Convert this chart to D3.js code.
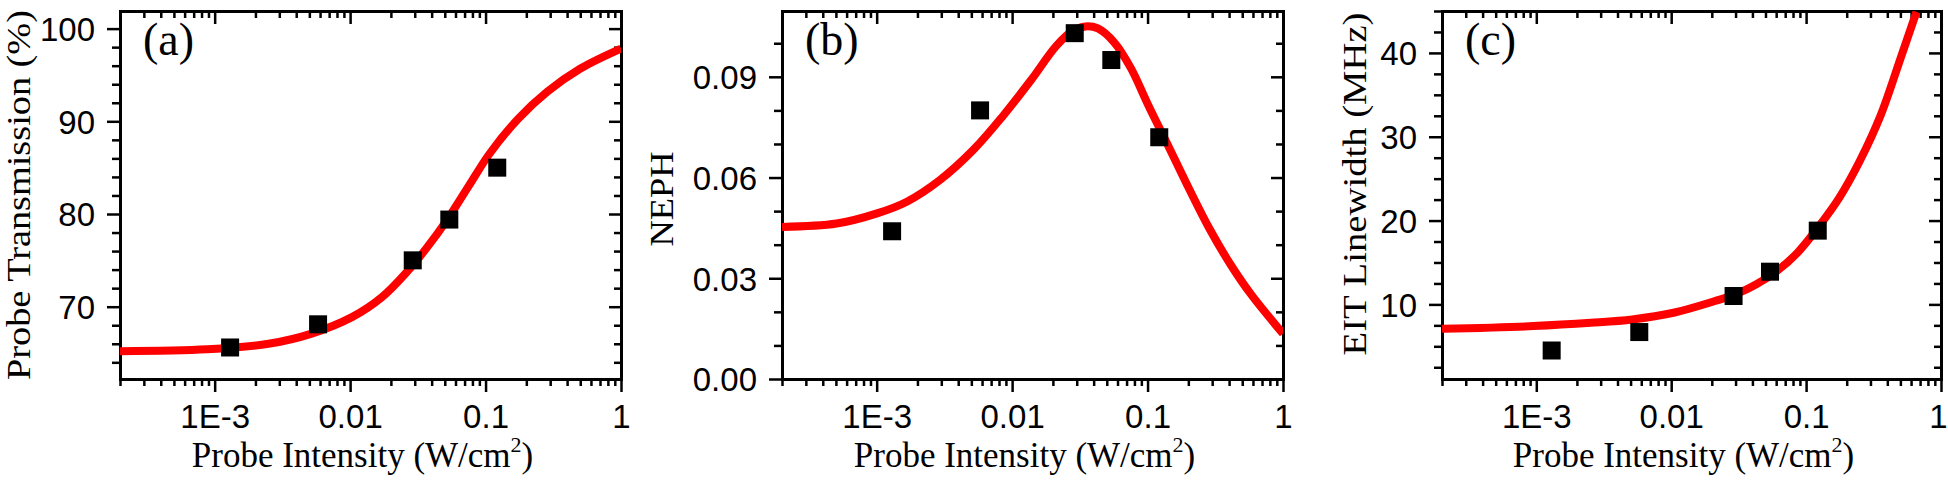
<!DOCTYPE html>
<html lang="en">
<head>
    <meta charset="UTF-8">
    <title>Probe intensity dependence</title>
    <script src="https://d3js.org/d3.v7.min.js"></script>
    <style>
        body { margin: 0; background: #fff; }
        .tick text { font-family: "Liberation Sans", Arial, sans-serif; font-size: 33px; fill: #000; }
        .title { font-family: "Liberation Serif", "Times New Roman", serif; fill: #000; }
    </style>
</head>
<body>
    <div id="chart"></div>

    <script>
        // Measured points (same intensities in all three panels)
        const intensity = [0.0013, 0.0058, 0.029, 0.054, 0.122];
        const transmission = [65.6, 68.1, 75.0, 79.4, 85.0];
        const neph = [0.044, 0.080, 0.103, 0.095, 0.072];
        const linewidth = [4.5, 6.7, 11.0, 13.9, 18.8];

        // Fit curves
        const fitA_x = [2e-4, 8.8e-4, 2.5e-3, 5.2e-3, 0.0104, 0.0171, 0.0261, 0.037, 0.0527, 0.075, 0.107, 0.175, 0.286, 0.502, 1.0];
        const fitA_y = [65.2, 65.4, 66.0, 67.1, 68.9, 71.0, 73.7, 76.4, 79.5, 83.0, 86.5, 90.3, 93.2, 95.7, 97.85];

        const fitB_x = [2e-4, 5.06e-4, 1.02e-3, 1.67e-3, 2.94e-3, 5.19e-3, 8.5e-3, 0.0139, 0.0212, 0.0281, 0.0348, 0.043, 0.0569, 0.0755, 0.1, 0.142, 0.203, 0.288, 0.41, 0.583, 1.0];
        const fitB_y = [0.0453, 0.0463, 0.0494, 0.0528, 0.0593, 0.0683, 0.0782, 0.0892, 0.0992, 0.1037, 0.1050, 0.1044, 0.1002, 0.0925, 0.0820, 0.0695, 0.0566, 0.0446, 0.0341, 0.0251, 0.0135];

        const fitC_x = [2e-4, 9.5e-4, 2.54e-3, 5.15e-3, 0.0104, 0.0211, 0.030, 0.0428, 0.061, 0.0867, 0.123, 0.176, 0.25, 0.356, 0.505, 0.658];
        const fitC_y = [7.09, 7.41, 7.80, 8.2, 9.0, 10.4, 11.2, 12.4, 14.0, 16.2, 19.2, 22.7, 27.1, 32.5, 39.5, 44.9];

        // Axis ticks
        const xDomain = [2e-4, 1];
        const xMajor = [1e-3, 1e-2, 1e-1, 1];
        const xLabels = ["1E-3", "0.01", "0.1", "1"];

        const yTicksA = [70, 80, 90, 100];
        const yLabelsA = ["70", "80", "90", "100"];
        const yTicksB = [0, 0.03, 0.06, 0.09];
        const yLabelsB = ["0.00", "0.03", "0.06", "0.09"];
        const yTicksC = [10, 20, 30, 40];
        const yLabelsC = ["10", "20", "30", "40"];

        const panels = [
            { left: 120, width: 501, tag: "(a)", yTitle: "Probe Transmission (%)", titleX: 30, titleY: 195, titleLen: 370,
              yDomain: [62.2, 101.9], yMinorStep: 2, yTicks: yTicksA, yLabels: yLabelsA,
              pts: transmission, fx: fitA_x, fy: fitA_y },
            { left: 782, width: 501, tag: "(b)", yTitle: "NEPH", titleX: 673, titleY: 199, titleLen: 95,
              yDomain: [0, 0.1096], yMinorStep: 0.01, yTicks: yTicksB, yLabels: yLabelsB,
              pts: neph, fx: fitB_x, fy: fitB_y },
            { left: 1442, width: 499, tag: "(c)", yTitle: "EIT Linewidth (MHz)", titleX: 1366, titleY: 184, titleLen: 343,
              yDomain: [1.1, 45], yMinorStep: 2.5, yTicks: yTicksC, yLabels: yLabelsC,
              pts: linewidth, fx: fitC_x, fy: fitC_y }
        ];

        const W = 1948, H = 480, frameTop = 11, frameBottom = 379;

        const svg = d3.select("#chart").append("svg")
            .attr("width", W).attr("height", H);

        function styleAxis(g) {
            g.select(".domain").attr("stroke", "#000").attr("stroke-width", 3)
                .attr("stroke-linecap", "square");
            g.selectAll(".tick line").attr("stroke", "#000").attr("stroke-width", 2.5);
        }

        panels.forEach((p, idx) => {
            const h = frameBottom - frameTop;
            const g = svg.append("g").attr("transform", `translate(${p.left},${frameTop})`);

            const x = d3.scaleLog().domain(xDomain).range([0, p.width]);
            const y = d3.scaleLinear().domain(p.yDomain).range([h, 0]);

            const xMinor = x.ticks().filter(d => !xMajor.some(m => Math.abs(m - d) / m < 1e-6));
            const yMinor = d3.range(Math.ceil(p.yDomain[0] / p.yMinorStep), Math.floor(p.yDomain[1] / p.yMinorStep) + 1)
                .map(k => +(k * p.yMinorStep).toFixed(4))
                .filter(d => !p.yTicks.some(t => Math.abs(t - d) < 1e-6));

            // bottom axis: outward ticks
            const gb = g.append("g").attr("transform", `translate(0,${h})`);
            gb.append("g").call(d3.axisBottom(x).tickValues(xMinor).tickSize(7).tickSizeOuter(0).tickFormat(""))
                .call(styleAxis);
            gb.append("g").call(d3.axisBottom(x).tickValues(xMajor).tickSize(13).tickSizeOuter(0)
                    .tickFormat((d, i) => xLabels[i]))
                .call(styleAxis)
                .call(a => a.selectAll("text").attr("y", 49).attr("dy", null))
                .call(a => a.selectAll("text").each(function (d) {
                    // keep the last label inside the page
                    const half = this.getComputedTextLength() / 2;
                    const over = p.left + x(d) + half - (W - 1);
                    if (over > 0) d3.select(this).attr("dx", -over);
                }));

            // top axis: inward ticks
            g.append("g").call(d3.axisTop(x).tickValues(xMinor).tickSize(-7).tickSizeOuter(0).tickFormat(""))
                .call(styleAxis);
            g.append("g").call(d3.axisTop(x).tickValues(xMajor).tickSize(-13).tickSizeOuter(0).tickFormat(""))
                .call(styleAxis);

            // left axis: outward ticks
            g.append("g").call(d3.axisLeft(y).tickValues(yMinor).tickSize(8).tickSizeOuter(0).tickFormat(""))
                .call(styleAxis);
            g.append("g").call(d3.axisLeft(y).tickValues(p.yTicks).tickSize(13).tickSizeOuter(0)
                    .tickFormat((d, i) => p.yLabels[i]))
                .call(styleAxis)
                .call(a => a.selectAll("text").attr("x", -25).attr("dy", "0.36em"));

            // right axis: inward ticks
            const gr = g.append("g").attr("transform", `translate(${p.width},0)`);
            gr.append("g").call(d3.axisRight(y).tickValues(yMinor).tickSize(-7).tickSizeOuter(0).tickFormat(""))
                .call(styleAxis);
            gr.append("g").call(d3.axisRight(y).tickValues(p.yTicks).tickSize(-12).tickSizeOuter(0).tickFormat(""))
                .call(styleAxis);

            // fit curve, clipped to the frame
            g.append("clipPath").attr("id", "clip" + idx)
                .append("rect").attr("width", p.width).attr("height", h);

            const line = d3.line()
                .x(d => x(d[0]))
                .y(d => y(d[1]))
                .curve(d3.curveCatmullRom.alpha(0.5));

            g.append("path")
                .datum(p.fx.map((v, i) => [v, p.fy[i]]))
                .attr("clip-path", `url(#clip${idx})`)
                .attr("d", line)
                .attr("fill", "none")
                .attr("stroke", "#ff0000")
                .attr("stroke-width", 8);

            // measured points
            const s = 18;
            g.selectAll("rect.pt")
                .data(intensity.map((v, i) => [v, p.pts[i]]))
                .join("rect")
                .attr("class", "pt")
                .attr("x", d => x(d[0]) - s / 2)
                .attr("y", d => y(d[1]) - s / 2)
                .attr("width", s)
                .attr("height", s)
                .attr("fill", "#000");

            // panel tag
            g.append("text")
                .attr("class", "title")
                .attr("x", 23)
                .attr("y", 44)
                .attr("font-size", 46)
                .text(p.tag);

            // y title (the original serif is wider, so stretch to its length)
            svg.append("text")
                .attr("class", "title")
                .attr("transform", `translate(${p.titleX},${p.titleY}) rotate(-90)`)
                .attr("text-anchor", "middle")
                .attr("font-size", 33)
                .attr("textLength", p.titleLen)
                .attr("lengthAdjust", "spacingAndGlyphs")
                .text(p.yTitle);

            // x title
            const xt = svg.append("text")
                .attr("class", "title")
                .attr("x", p.left + p.width / 2 - 8)
                .attr("y", 467)
                .attr("text-anchor", "middle")
                .attr("font-size", 35);
            xt.append("tspan").text("Probe Intensity (W/cm");
            xt.append("tspan").attr("dy", -15).attr("font-size", 22).text("2");
            xt.append("tspan").attr("dy", 15).text(")");
        });
    </script>
</body>
</html>
